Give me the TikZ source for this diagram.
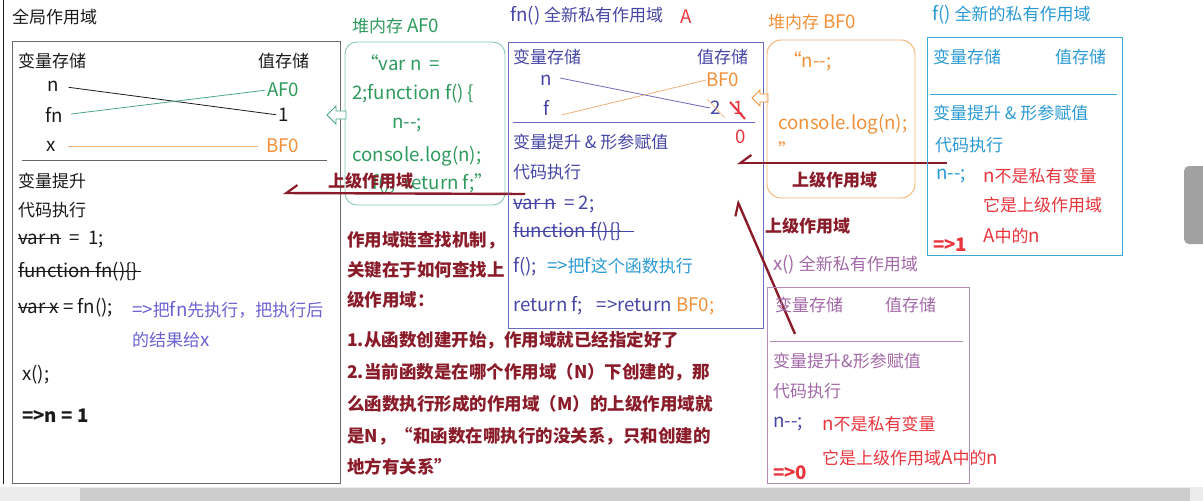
\documentclass[tikz,border=0pt]{standalone}
\usepackage{fontspec}
\setmainfont{Noto Sans CJK SC}
\newfontfamily\lt{Noto Sans CJK SC}[Scale=1.1]
\usetikzlibrary{arrows.meta}
\definecolor{dred}{HTML}{8A1C2A}
\definecolor{hgreen}{HTML}{2E9A5C}
\definecolor{hgreenb}{HTML}{86C9B2}
\definecolor{lgreen}{HTML}{49A882}
\definecolor{orng}{HTML}{F0903A}
\definecolor{orngl}{HTML}{F0B07A}
\definecolor{orngb}{HTML}{F0B070}
\definecolor{bpur}{HTML}{4646A6}
\definecolor{bpurb}{HTML}{6A6AC0}
\definecolor{cyn}{HTML}{2A9AD4}
\definecolor{cynb}{HTML}{3AA8D8}
\definecolor{rd}{HTML}{E8343C}
\definecolor{ppl}{HTML}{A268A8}
\definecolor{pplb}{HTML}{B48CB8}
\definecolor{slt}{HTML}{6A62D0}
\definecolor{txtk}{HTML}{1A1A1A}
\newcommand\strk[1]{\setbox0\hbox{#1}\rlap{\rule[0.3em]{\wd0}{0.9pt}}\box0}
\newcommand\mm{-\kern0pt-}
\newcommand\fs{\fontsize{17}{20}\selectfont}
\newcommand\fsb{\fontsize{17.5}{20}\selectfont}
\begin{document}
\begin{tikzpicture}[x=1pt,y=-1pt,
  txt/.style={anchor=west,inner sep=0pt,font=\fs,text=txtk},
  ltx/.style={txt,font=\fs\lt},
  bt/.style={txt,font=\fs\bfseries},
  expl/.style={txt,font=\fsb\bfseries,text=dred},
  harpL/.style={line width=2.4pt,draw=dred,-{Straight Barb[harpoon,swap,length=11pt,width=16pt,line width=2.2pt]}},
  harpU/.style={line width=2.4pt,draw=dred,-{Straight Barb[harpoon,length=11pt,width=16pt,line width=2.2pt]}},
  hollow/.style={line width=0.9pt,fill=white},
]
\useasboundingbox (0,0) rectangle (1203,501);
% screenshot chrome
\fill[gray!15] (0,487) rectangle (1203,501);
\fill[gray!40] (80,488) rectangle (1190,501);
\fill[gray!95!black!70,rounded corners=5pt] (1184,166) rectangle (1215,244);
% global scope
\draw[line width=0.8pt,txtk] (3,0) -- (3,484);
\node[txt] (glab) at (12,17) {全局作用域};
\draw[line width=1pt,gray!85!black] (12,41) rectangle (340,483);
\node[txt] (gvs) at (18,61) {变量存储};
\node[txt] (gzs) at (258,61) {值存储};
\node[ltx] (gn) at (47,86) {n};
\node[ltx] (gfn) at (45,115) {fn};
\node[ltx] (gx) at (46,146) {x};
\node[ltx,text=hgreen] (gAF) at (267,90) {AF0};
\node[ltx] (gone) at (278,115) {1};
\node[ltx,text=orng] (gBF) at (266,146) {BF0};
\draw[line width=0.8pt,txtk,shorten <=10pt,shorten >=2pt] (gn.east) -- (gone.west);
\draw[line width=0.8pt,lgreen,shorten <=8pt,shorten >=2pt] (gfn.east) -- (gAF.west);
\draw[line width=0.8pt,orngl,shorten <=12pt,shorten >=8pt] (gx.east) -- (gBF.west);
\draw[line width=0.8pt,gray!80!black] (22,160) -- (327,160);
\node[txt] (g1) at (18,181) {变量提升};
\node[txt] (g2) at (18,210) {代码执行};
\node[ltx] (g3) at (18,240) {\strk{var n}\ \ =\ \ 1;};
\node[ltx] (g4) at (18,272) {\strk{function fn()\{\}\,}};
\node[ltx] (g5) at (18,308) {\strk{var x}\ =\ fn();};
\node[txt,text=slt] (g6) at (132,310) {{\lt =>}把{\lt fn}先执行，把执行后};
\node[txt,text=slt] (g7) at (132,340) {的结果给{\lt x}};
\node[ltx] (g8) at (22,375) {x();};
\node[ltx,font=\fs\lt\bfseries] (g9) at (22,416) {=>n\ =\ 1};
% heap AF0
\node[txt,text=hgreen] (alab) at (352,26) {堆内存 {\lt AF0}};
\draw[line width=0.9pt,hgreenb,rounded corners=12pt] (345,42) rectangle (505,205);
\node[ltx,text=hgreen] (a1) at (360,63) {“var n\ \ =};
\node[ltx,text=hgreen] (a2) at (352,94) {2;function f() \{};
\node[ltx,text=hgreen] (a3) at (392,125) {n\mm;};
\node[ltx,text=hgreen] (a4) at (352,156) {console.log(n);};
\node[ltx,text=hgreen] (a5) at (372,183) {f(); \ return f;”};
\draw[hollow,draw=lgreen] (327,115) -- (336,106) -- (336,111) -- (346,111) -- (346,119) -- (336,119) -- (336,124) -- cycle;
% arrow to global
\node[bt,text=dred] (up1) at (328,181) {上级作用域};
\coordinate (u1s) at (525,194);
\coordinate (u1e) at (283,193);
\draw[harpL] (u1s) -- (u1e);
% fn() scope
\node[txt,text=bpur] (flab) at (510,16) {{\lt fn()} 全新私有作用域};
\node[ltx,text=rd] (fA) at (680,17) {A};
\draw[line width=1pt,bpurb] (508,42) rectangle (763,328);
\node[txt,text=bpur] (fvs) at (513,57) {变量存储};
\node[txt,text=bpur] (fzs) at (697,57) {值存储};
\node[ltx,text=bpur] (fn) at (540,80) {n};
\node[ltx,text=bpur] (ff) at (543,108) {f};
\node[ltx,text=orng] (fBF) at (706,80) {BF0};
\node[ltx,text=bpur] (ftwo) at (710,108) {2};
\node[ltx,text=rd] (fone) at (733,108) {1};
\node[ltx,text=rd] (fzero) at (735,137) {0};
\draw[line width=0.6pt,orngl] (707,99) -- (725,118);
\draw[line width=2pt,rd] (730,102) -- (745,119);
\draw[line width=0.8pt,bpur!80] (fn.east) ++(8,-2) -- (ftwo.west);
\draw[line width=0.8pt,orngl] (ff.east) ++(12,7) -- (fBF.west);
\draw[line width=0.9pt,bpurb] (513,122) -- (755,122);
\node[txt,text=bpur] (f1) at (513,142) {变量提升 \& 形参赋值};
\node[txt,text=bpur] (f2) at (513,172) {代码执行};
\node[ltx,text=bpur] (f3) at (513,204) {\strk{var n}\ \ =\ 2;};
\node[ltx,text=bpur] (f4) at (513,232) {\strk{function f()\{\}\hspace{12pt}}};
\node[txt,text=bpur] (f5) at (513,267) {{\lt f();}\hspace{10pt}\textcolor{cyn}{{\lt =>}把{\lt f}这个函数执行}};
\node[ltx,text=bpur] (f6) at (513,306) {return f;\hspace{14pt}=>return \textcolor{orng}{BF0;}};
\draw[hollow,draw=orng] (752,98) -- (760,90) -- (760,94) -- (768,94) -- (768,102) -- (760,102) -- (760,106) -- cycle;
% heap BF0
\node[txt,text=orng] (blab) at (768,22) {堆内存 {\lt BF0}};
\draw[line width=0.9pt,orngb,rounded corners=14pt] (767,40) rectangle (915,198);
\node[ltx,text=orng] (b1) at (783,61) {“n\mm;};
\node[ltx,text=orng] (b2) at (778,124) {console.log(n);};
\node[ltx,text=orng] (b3) at (778,150) {”};
\node[bt,text=dred] (b4) at (792,180) {上级作用域};
\coordinate (u2s) at (947,163);
\coordinate (u2e) at (737,163);
\draw[harpL] (u2s) -- (u2e);
\node[bt,text=dred] (up3) at (765,226) {上级作用域};
\coordinate (u3s) at (795,334);
\coordinate (u3e) at (737,200);
\draw[harpU] (u3s) -- (u3e);
% x() scope
\node[txt,text=ppl] (xlab) at (773,265) {{\lt x()} 全新私有作用域};
\draw[line width=1pt,pplb] (767,287) rectangle (969,483);
\node[txt,text=ppl] (xvs) at (775,305) {变量存储};
\node[txt,text=ppl] (xzs) at (885,305) {值存储};
\draw[line width=0.9pt,pplb] (770,341) -- (963,341);
\node[txt,text=ppl] (x1) at (773,361) {变量提升\&形参赋值};
\node[txt,text=ppl] (x2) at (773,391) {代码执行};
\node[ltx,text=bpur] (x3) at (773,424) {n\mm;};
\node[txt,text=rd] (x4) at (822,424) {{\lt n}不是私有变量};
\node[txt,text=rd] (x5) at (822,458) {它是上级作用域{\lt A}中的{\lt n}};
\node[ltx,font=\fs\lt\bfseries,text=rd] (x6) at (773,473) {=>0};
% f() scope
\node[txt,text=cyn] (clab) at (932,15) {{\lt f()} 全新的私有作用域};
\draw[line width=1pt,cynb] (927,37) rectangle (1122,255);
\node[txt,text=cyn] (cvs) at (933,57) {变量存储};
\node[txt,text=cyn] (czs) at (1055,57) {值存储};
\draw[line width=0.9pt,cynb] (930,94) -- (1117,94);
\node[txt,text=cyn] (c1) at (933,113) {变量提升 \& 形参赋值};
\node[txt,text=cyn] (c2) at (935,145) {代码执行};
\node[ltx,text=cyn] (c3) at (936,176) {n\mm;};
\node[txt,text=rd] (c4) at (983,176) {{\lt n}不是私有变量};
\node[txt,text=rd] (c5) at (983,205) {它是上级作用域};
\node[txt,text=rd] (c6) at (983,236) {{\lt A}中的{\lt n}};
\node[ltx,font=\fs\lt\bfseries,text=rd] (c7) at (933,245) {=>1};
% explanation
\node[expl] (e1) at (347,240) {作用域链查找机制，};
\node[expl] (e2) at (347,270) {关键在于如何查找上};
\node[expl] (e3) at (347,300) {级作用域：};
\node[expl] (e4) at (347,340) {1.从函数创建开始，作用域就已经指定好了};
\node[expl] (e5) at (347,372) {2.当前函数是在哪个作用域（N）下创建的，那};
\node[expl] (e6) at (347,404) {么函数执行形成的作用域（M）的上级作用域就};
\node[expl] (e7) at (347,436) {是N，“和函数在哪执行的没关系，只和创建的};
\node[expl] (e8) at (347,467) {地方有关系”};
\end{tikzpicture}
\end{document}
